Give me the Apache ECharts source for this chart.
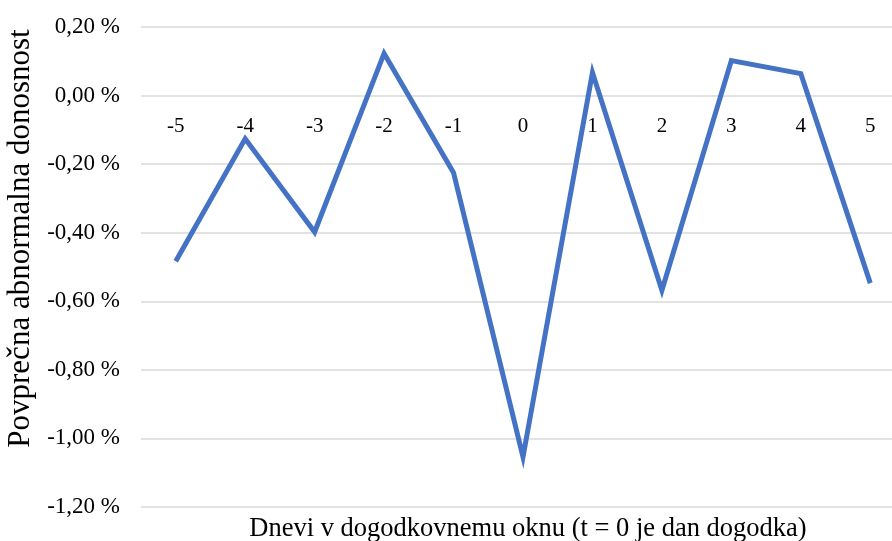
<!DOCTYPE html>
<html>
<head>
<meta charset="utf-8">
<script src="https://cdn.jsdelivr.net/npm/echarts@6/dist/echarts.min.js"></script>
<style>
  html, body { margin: 0; padding: 0; background: #fff; }
  #chart { width: 892px; height: 541px; }
</style>
</head>
<body>
<div id="chart"></div>
<script>
// Event-window days and average abnormal return (in percent)
const days = ['-5', '-4', '-3', '-2', '-1', '0', '1', '2', '3', '4', '5'];
const avgAbnormalReturn = [-0.483, -0.126, -0.398, 0.123, -0.225, -1.054, 0.067, -0.568, 0.102, 0.064, -0.547];

const yMin = -1.2;
const yMax = 0.2;
const yStep = 0.2;

const serif = "'Liberation Serif', 'Times New Roman', serif";

const gridTop = 27;
const gridHeight = 480;
// distance from the bottom of the plot up to the zero line
const zeroLift = gridHeight * (0 - yMin) / (yMax - yMin);

const chart = echarts.init(document.getElementById('chart'), null, { renderer: 'canvas' });

function pct(v) {
  const s = (Math.abs(v) < 1e-9 ? 0 : v).toFixed(2).replace('.', ',');
  return s + ' %';
}

chart.setOption({
  animation: false,
  backgroundColor: '#ffffff',
  title: {
    text: 'Dnevi v dogodkovnemu oknu (t = 0 je dan dogodka)',
    left: 523,
    top: 511,
    textAlign: 'center',
    textStyle: { color: '#000', fontFamily: serif, fontSize: 26.5, fontWeight: 'normal' }
  },
  grid: { left: 141, top: gridTop, width: 764, height: gridHeight, containLabel: false, outerBoundsMode: 'none' },
  xAxis: {
    // day labels sit just under the zero line
    type: 'category',
    data: days,
    boundaryGap: true,
    position: 'bottom',
    offset: -zeroLift,
    axisLine: { show: false, onZero: false },
    axisTick: { show: false },
    axisLabel: { color: '#000', fontFamily: serif, fontSize: 21, margin: 20 }
  },
  yAxis: {
    type: 'value',
    min: yMin,
    max: yMax,
    interval: yStep,
    axisLine: { show: false },
    axisTick: { show: false },
    splitLine: { lineStyle: { color: '#d9d9d9', width: 1.5 } },
    axisLabel: { color: '#000', fontFamily: serif, fontSize: 23, margin: 21, formatter: pct },
    name: 'Povprečna abnormalna donosnost',
    nameLocation: 'middle',
    nameGap: 100,
    nameTextStyle: { color: '#000', fontFamily: serif, fontSize: 31, padding: [0, 0, 0, 57] }
  },
  series: [
    {
      type: 'line',
      data: avgAbnormalReturn,
      showSymbol: false,
      symbol: 'none',
      lineStyle: { color: '#4472c4', width: 5, join: 'miter' },
      itemStyle: { color: '#4472c4' }
    }
  ]
});
</script>
</body>
</html>
